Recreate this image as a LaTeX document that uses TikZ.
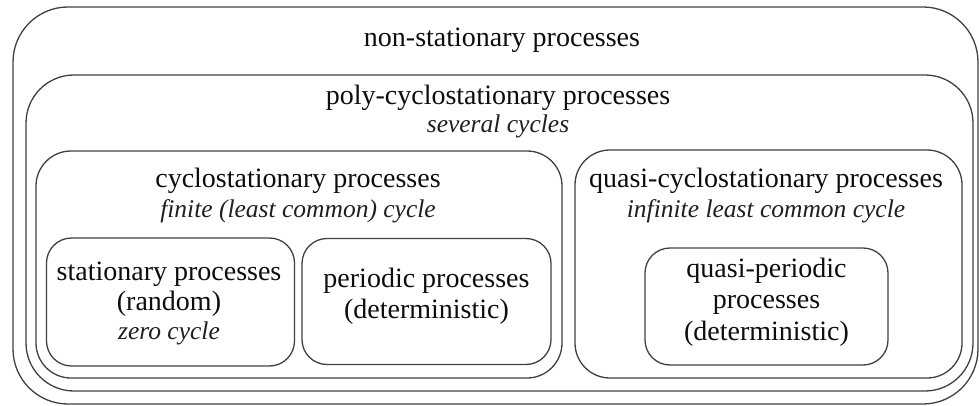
\documentclass[tikz,border=0pt]{standalone}
\usepackage{fontspec}
\setmainfont{Liberation Serif}
\newfontfamily\tnrfont{Liberation Serif}
\begin{document}
\begin{tikzpicture}[x=1pt,y=-1pt,
  frame/.style={draw=black!75, line width=1.3pt, inner sep=0pt, outer sep=0pt},
  rm/.style={anchor=base, inner sep=0pt, text=black!95, font=\tnrfont\fontsize{28}{30}\selectfont},
  it/.style={anchor=base, inner sep=0pt, text=black!88, font=\tnrfont\fontsize{25.5}{28}\selectfont\itshape}]
\useasboundingbox (0,0) rectangle (979,406);
% boxes
\node[frame, rounded corners=55pt, minimum width=965pt, minimum height=397pt] (outer) at (495.5,205.5) {};
\node[frame, rounded corners=48pt, minimum width=947pt, minimum height=316pt] (poly) at (499.5,233) {};
\node[frame, rounded corners=35pt, minimum width=526pt, minimum height=227pt] (cyclo) at (299,264.5) {};
\node[frame, rounded corners=25pt, minimum width=248pt, minimum height=128pt] (stat) at (170.5,302) {};
\node[frame, rounded corners=25pt, minimum width=249pt, minimum height=126pt] (peri) at (426.5,301.5) {};
\node[frame, rounded corners=35pt, minimum width=387pt, minimum height=228pt] (qcyclo) at (768.5,264) {};
\node[frame, rounded corners=25pt, minimum width=243pt, minimum height=117pt] (qperi) at (766.5,306.5) {};
% texts
\node[rm] (tnon) at (502,47) {non-stationary processes};
\node[rm] (tpoly) at (498,105) {poly-cyclostationary processes};
\node[it] (tpolyi) at (498,133) {several cycles};
\node[rm] (tcyc) at (298,187) {cyclostationary processes};
\node[it] (tcyci) at (298,217) {finite (least common) cycle};
\node[rm] (tqc) at (766,187) {quasi-cyclostationary processes};
\node[it] (tqci) at (766,217) {infinite least common cycle};
\node[rm] (ts1) at (169,280) {stationary processes};
\node[rm] (ts2) at (169,310) {(random)};
\node[it] (ts3) at (169,339) {zero cycle};
\node[rm] (tp1) at (426.5,287) {periodic processes};
\node[rm] (tp2) at (426.5,318) {(deterministic)};
\node[rm] (tq1) at (766.5,277) {quasi-periodic};
\node[rm] (tq2) at (766.5,308) {processes};
\node[rm] (tq3) at (766.5,340) {(deterministic)};
\end{tikzpicture}
\end{document}
